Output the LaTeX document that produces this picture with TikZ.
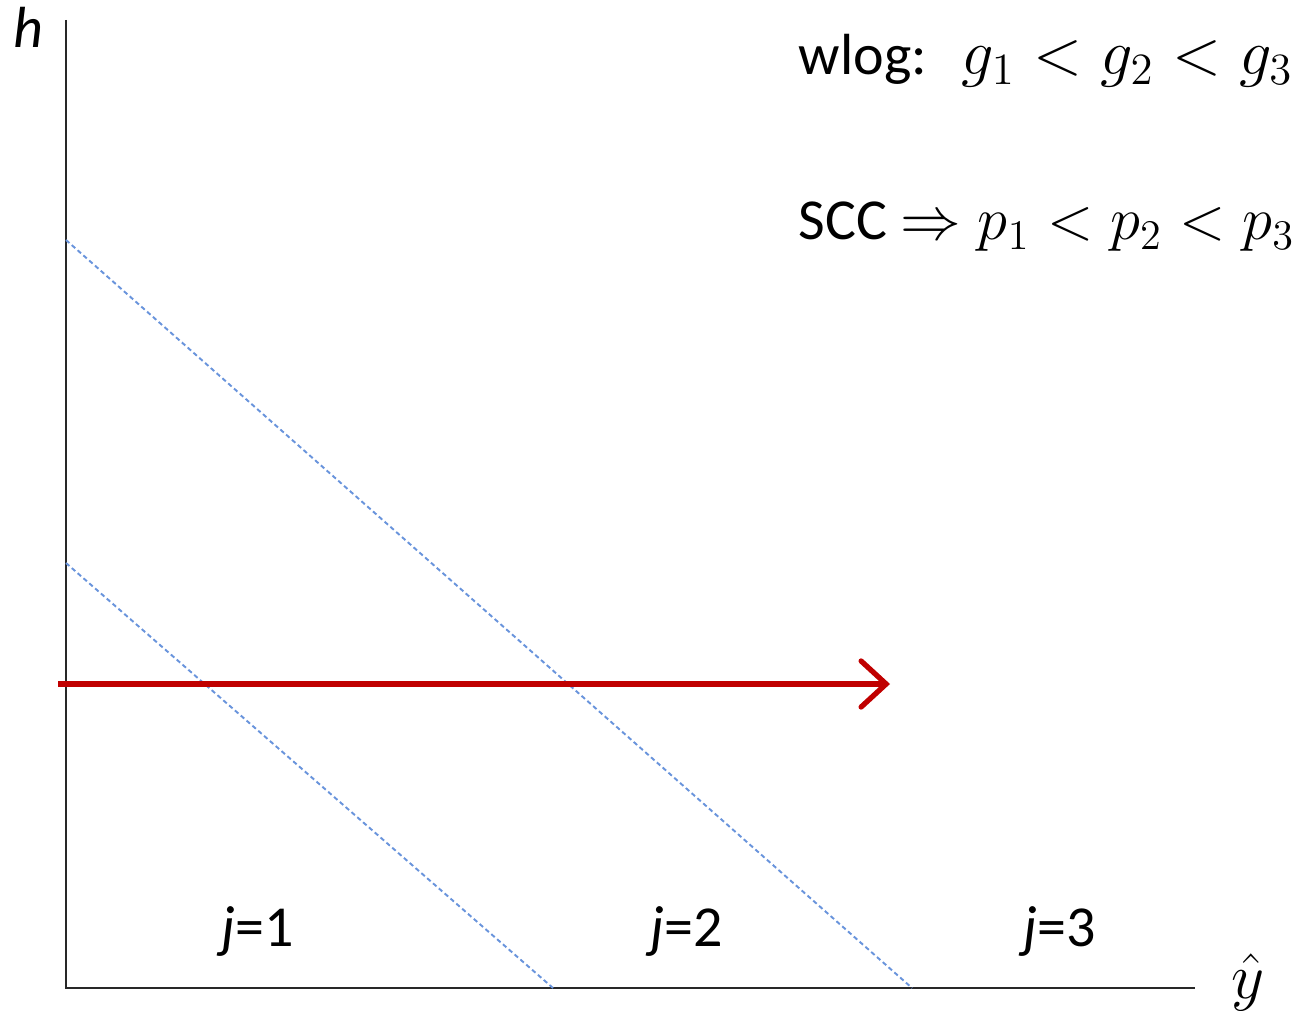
\documentclass[tikz,border=0pt]{standalone}
\usepackage{fontspec}
\setmainfont{Carlito}
\usepackage{graphicx}
\usepackage{xcolor}
\definecolor{axisgray}{RGB}{40, 40, 40}
\definecolor{cutblue}{RGB}{105, 148, 220}
\definecolor{pathred}{RGB}{192, 0, 0}
\usepackage{tikz}
\usetikzlibrary{arrows.meta}

\tikzset{
  axisline/.style={draw=axisgray, line width=0.6pt},
  cutline/.style={draw=cutblue, line width=0.55pt, dash pattern=on 1.3pt off 0.9pt},
  lbl/.style={font=\fontsize{16.5}{20}\selectfont, inner sep=0pt}
}
\newcommand{\bigmath}[1]{\scalebox{1.06}{$#1$}}

\begin{document}
\begin{tikzpicture}
  \useasboundingbox (0,0) rectangle (13.06,10.10);

  % Axes
  \coordinate (origin) at (0.66,0.22);
  \coordinate (ytop) at (0.66,9.90);
  \coordinate (xend) at (11.95,0.22);
  \draw[axisline] (ytop) -- (origin) -- (xend);
  \node[lbl, anchor=base] (hlab) at (0.28,9.62) {\textit{h}};
  \node[lbl, anchor=base] (yhatlab) at (12.48,0.12) {\bigmath{\hat{y}}};

  % Cutoff lines between regions
  \coordinate (cutAtop) at (0.66,7.70);
  \coordinate (cutAbot) at (9.12,0.22);
  \coordinate (cutBtop) at (0.66,4.47);
  \coordinate (cutBbot) at (5.53,0.22);
  \draw[cutline] (cutAtop) -- (cutAbot);
  \draw[cutline] (cutBtop) -- (cutBbot);

  % Region labels
  \node[lbl, anchor=base] (reg1) at (2.58,0.64) {\textit{j}=1};
  \node[lbl, anchor=base] (reg2) at (6.87,0.64) {\textit{j}=2};
  \node[lbl, anchor=base] (reg3) at (10.60,0.64) {\textit{j}=3};

  % Red arrow
  \coordinate (arrstart) at (0.58,3.26);
  \coordinate (arrend) at (8.90,3.26);
  \draw[pathred, line width=1.5pt, -{Straight Barb[length=0.25cm, width=0.46cm, line cap=round]}] (arrstart) -- (arrend);

  % Ordering statements
  \node[lbl, anchor=base west] (wlog) at (7.98,9.35) {wlog:\hspace{0.6em}\bigmath{g_1 < g_2 < g_3}};
  \node[lbl, anchor=base west] (scc) at (7.98,7.70) {SCC $\Rightarrow p_1 < p_2 < p_3$};
\end{tikzpicture}
\end{document}
